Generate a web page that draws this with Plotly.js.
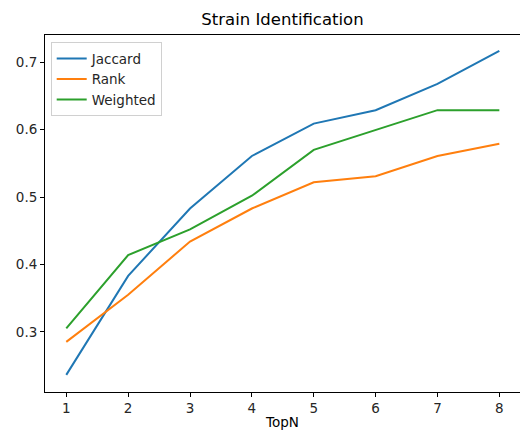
<!DOCTYPE html>
<html>
<head>
<meta charset="utf-8">
<script src="https://cdn.plot.ly/plotly-3.0.1.min.js"></script>
<style>html,body{margin:0;padding:0;background:#fff;}#chart{width:520px;height:430px;}</style>
</head>
<body>
<div id="chart"></div>
<script>
const topN = [1, 2, 3, 4, 5, 6, 7, 8];
const jaccard = [0.236, 0.383, 0.483, 0.561, 0.609, 0.629, 0.668, 0.717];
const rank = [0.285, 0.355, 0.434, 0.483, 0.522, 0.531, 0.561, 0.579];
const weighted = [0.305, 0.414, 0.452, 0.502, 0.570, 0.600, 0.629, 0.629];
const seriesNames = ["Jaccard", "Rank", "Weighted"];
const colors = ["#1f77b4", "#ff7f0e", "#2ca02c"];
const yTicks = [0.3, 0.4, 0.5, 0.6, 0.7];

const font = "DejaVu Sans, sans-serif";
const traces = [jaccard, rank, weighted].map((ys, i) => ({
  x: topN, y: ys, type: "scatter", mode: "lines", name: seriesNames[i],
  line: {color: colors[i], width: 2}
}));

const layout = {
  width: 520, height: 430,
  paper_bgcolor: "#fff", plot_bgcolor: "#fff",
  margin: {l: 45, r: 0, t: 35, b: 38},
  font: {family: font, size: 13.5, color: "#262626"},
  title: {text: "Strain Identification", font: {family: font, size: 16.5, color: "#000"},
          x: 0.5, xref: "paper", y: 1, yref: "container", yanchor: "top", pad: {t: 13}},
  showlegend: true,
  legend: {x: 0.012, y: 0.98, xanchor: "left", yanchor: "top",
           bgcolor: "rgba(255,255,255,0.9)", bordercolor: "#d0d0d0", borderwidth: 1,
           font: {family: font, size: 13.5, color: "#262626"}},
  xaxis: {range: [0.656, 8.334], tickvals: topN, ticks: "outside", ticklen: 4, tickwidth: 1,
          tickcolor: "#000", showline: true, mirror: true, linecolor: "#000", linewidth: 1,
          showgrid: false, zeroline: false,
          title: {text: "TopN", standoff: 11, font: {family: font, size: 13.5, color: "#000"}}},
  yaxis: {range: [0.2106, 0.7406], tickvals: yTicks, ticktext: yTicks.map(v => v.toFixed(1)),
          ticks: "outside", ticklen: 4, tickwidth: 1, tickcolor: "#000",
          showline: true, linecolor: "#000", linewidth: 1, showgrid: false, zeroline: false}
};
Plotly.newPlot("chart", traces, layout, {displayModeBar: false, staticPlot: true});
</script>
</body>
</html>
